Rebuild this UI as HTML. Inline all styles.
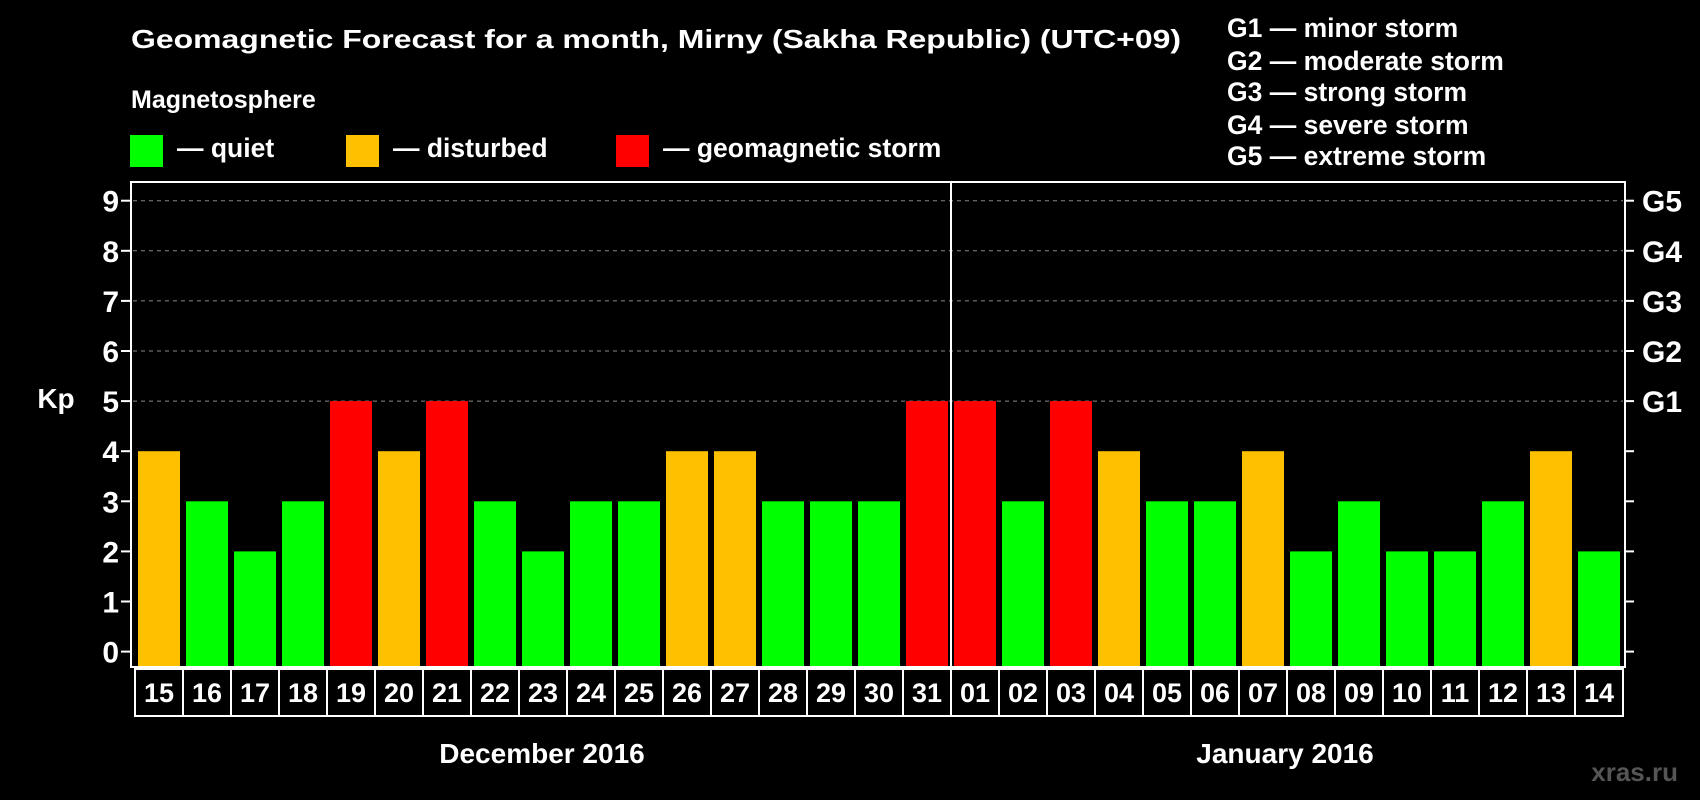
<!DOCTYPE html>
<html><head><meta charset="utf-8"><style>
html,body{margin:0;padding:0;background:#000;}
svg{display:block;font-family:"Liberation Sans",Arial,sans-serif;font-weight:bold;}
</style></head><body>
<svg id="chart" width="1700" height="800" viewBox="0 0 1700 800">
<rect width="1700" height="800" fill="#000"/>
<text x="131" y="48" font-size="26" fill="#fff" textLength="1050" lengthAdjust="spacingAndGlyphs">Geomagnetic Forecast for a month, Mirny (Sakha Republic) (UTC+09)</text>
<text x="131" y="108" font-size="25" fill="#fff">Magnetosphere</text>
<g><rect x="130" y="135" width="33" height="32" fill="#00ff00"/><text x="177" y="157" font-size="26.5" fill="#fff">— quiet</text></g>
<g><rect x="346" y="135" width="33" height="32" fill="#ffc000"/><text x="393" y="157" font-size="26.5" fill="#fff">— disturbed</text></g>
<g><rect x="616" y="135" width="33" height="32" fill="#ff0000"/><text x="663" y="157" font-size="26.5" fill="#fff">— geomagnetic storm</text></g>
<g font-size="26.5" fill="#fff">
<text x="1227" y="37">G1 — minor storm</text>
<text x="1227" y="70">G2 — moderate storm</text>
<text x="1227" y="101">G3 — strong storm</text>
<text x="1227" y="134">G4 — severe storm</text>
<text x="1227" y="165">G5 — extreme storm</text>
</g>
<text x="56" y="408" font-size="28" fill="#fff" text-anchor="middle">Kp</text>
<text x="542" y="763" font-size="28" fill="#fff" text-anchor="middle">December 2016</text>
<text x="1285" y="763" font-size="28" fill="#fff" text-anchor="middle">January 2016</text>
<text x="1678" y="781" font-size="26" fill="#555" text-anchor="end">xras.ru</text>
<g id="plot"></g>
</svg>
<script>
const days = ["15","16","17","18","19","20","21","22","23","24","25","26","27","28","29","30","31","01","02","03","04","05","06","07","08","09","10","11","12","13","14"];
const kpValues = [4,3,2,3,5,4,5,3,2,3,3,4,4,3,3,3,5,5,3,5,4,3,3,4,2,3,2,2,3,4,2];
const yTicks = [0,1,2,3,4,5,6,7,8,9];
const gLabels = ["G1","G2","G3","G4","G5"];
const monthSplitIndex = 17;

const NS="http://www.w3.org/2000/svg";
const plot=document.getElementById('plot');
const L=131,R=1625,T=182,B=667,y0=651.6,unit=50.1,x0=135,pitch=48,bw=42;
const yS=v=>y0-v*unit;
const xS=i=>x0+i*pitch;
function mk(tag,attrs,parent){const e=document.createElementNS(NS,tag);for(const k in attrs)e.setAttribute(k,attrs[k]);(parent||plot).appendChild(e);return e;}
const col=v=>v>=5?"#ff0000":(v>=4?"#ffc000":"#00ff00");

yTicks.forEach(v=>{
  if(v>=5){const g=mk('line',{x1:L+2,x2:R-2,y1:yS(v),y2:yS(v),stroke:'#888','stroke-width':1,'stroke-dasharray':'4,4'});
  
  }
  const tl=mk('line',{x1:L-10,x2:L,y1:yS(v),y2:yS(v),stroke:'#fff','stroke-width':2});
  
  
  const tr=mk('line',{x1:R,x2:R+9,y1:yS(v),y2:yS(v),stroke:'#fff','stroke-width':2});
  
  
  const t=mk('text',{x:L-12,y:yS(v)+11,'font-size':30,fill:'#fff','text-anchor':'end'});
  t.textContent=v;
  
  
});
gLabels.forEach((g,i)=>{
  const t=mk('text',{x:R+17,y:yS(5+i)+11,'font-size':30,fill:'#fff'});
  t.textContent=g;
  
  
});
kpValues.forEach((v,i)=>{
  const b=mk('rect',{x:xS(i)+3,y:yS(v),width:bw,height:B-yS(v),fill:col(v)});
  
  
});
const f=mk('rect',{x:L,y:T,width:R-L,height:B-T,fill:'none',stroke:'#fff','stroke-width':2});


const d=mk('line',{x1:xS(monthSplitIndex),x2:xS(monthSplitIndex),y1:T,y2:B,stroke:'#fff','stroke-width':2});


days.forEach((dd,i)=>{
  const r=mk('rect',{x:xS(i),y:669,width:pitch,height:47,fill:'none',stroke:'#fff','stroke-width':2});
  
  
  const t=mk('text',{x:xS(i)+pitch/2,y:702,'font-size':27,fill:'#fff','text-anchor':'middle'});
  t.textContent=dd;
  
  
});
</script>
</body></html>
